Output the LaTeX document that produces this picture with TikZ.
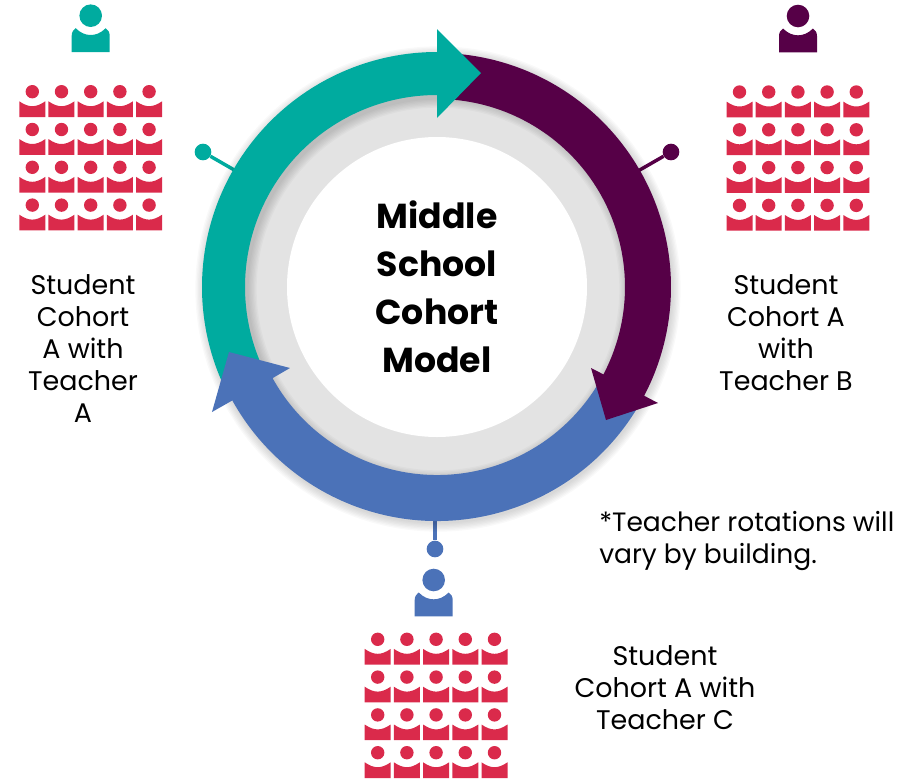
\documentclass[tikz,border=0pt]{standalone}
\usepackage{fontspec}
\setmainfont{Poppins}
\usetikzlibrary{arrows}
\definecolor{tealring}{HTML}{00AB9F}
\definecolor{purplering}{HTML}{560047}
\definecolor{bluering}{HTML}{4B72B8}
\definecolor{studentred}{HTML}{DA2A4B}
\definecolor{discgray}{HTML}{E3E3E3}
\tikzstyle{label} = [inner sep=0pt, align=center, font=\fontsize{20.2}{24}\selectfont]
\tikzstyle{note} = [inner sep=0pt, align=left, font=\fontsize{19.9}{24}\selectfont]
\tikzstyle{title} = [inner sep=0pt, align=center, font=\fontsize{26}{36}\selectfont\bfseries]
\tikzstyle{knob} = [circle, inner sep=0pt, minimum size=12.5pt]
\tikzstyle{stem} = [line width=2.6pt]
\tikzset{
    pics/student/.style={code={
        \fill[studentred] (0,0) circle (6.7);
        \fill[studentred] (-13,-25.3) -- (-13,-9.6)
            .. controls (-8,-13) and (-4,-14.5) .. (0,-14.5)
            .. controls (4,-14.5) and (8,-13) .. (13,-9.6)
            -- (13,-25.3) -- cycle;
    }},
    pics/teacher/.style={code={
        \path[pic actions] (0,0) circle (11.3);
        \path[pic actions] (-19,-36.3) -- (-19,-20)
            .. controls (-19,-16) and (-17,-14) .. (-15,-12.5)
            .. controls (-10,-17.5) and (-5,-19.3) .. (0,-19.3)
            .. controls (5,-19.3) and (10,-17.5) .. (15,-12.5)
            .. controls (17,-14) and (19,-16) .. (19,-20)
            -- (19,-36.3) -- cycle;
    }}
}
\newcommand{\cohort}[2]{
    \foreach \col in {0,...,4}
        \foreach \row in {0,...,3}
            \pic at ({#1+29.2*\col},{#2-37.8*\row}) {student};
}
\newcommand{\tealhead}{(0,258) -- (44,214) -- (0,169) -- cycle}

\begin{document}
\begin{tikzpicture}[x=0.75pt,y=0.75pt]
            \useasboundingbox (-437,-496) rectangle (466,287);
            % Pins
            \node[knob, fill=tealring] (knobA) at (-234,135) {};
            \node[knob, fill=purplering] (knobB) at (234,135) {};
            \node[knob, fill=bluering] (knobC) at (-2,-262) {};
            \coordinate (ringA) at (150:225);
            \coordinate (ringB) at (30:225);
            \coordinate (ringC) at (-2,-225);
            \draw[stem, tealring] (knobA) -- (ringA);
            \draw[stem, purplering] (knobB) -- (ringB);
            \draw[stem, bluering] (knobC) -- (ringC);
            % Disc
            \fill[discgray] (0,0) circle (200);
            \foreach \w in {34,36,...,46}
                \draw[black, opacity=0.022, line width=\w pt] (1,-2) circle (212);
            \fill[white] (0,0) circle (150);
            % Ring
            \fill[tealring] (205:235) arc[start angle=205, end angle=90, radius=235]
                -- (0,192) arc[start angle=90, end angle=205, radius=192] -- cycle;
            \fill[bluering] (-30:234) arc[start angle=-30, end angle=-151, radius=234]
                -- (-225,-125) -- (-208,-65) -- (-147,-81)
                -- (-151:188) arc[start angle=-151, end angle=-30, radius=188] -- cycle;
            \fill[purplering] (85:234) arc[start angle=85, end angle=-27.7, radius=234]
                -- (221,-116) -- (169,-133) -- (154,-81)
                -- (-27.7:188) arc[start angle=-27.7, end angle=85, radius=188] -- cycle;
            \fill[tealring] \tealhead;
            % Teachers
            \pic[fill=tealring] at (-346.3,271.3) {teacher};
            \pic[fill=purplering] at (361,271) {teacher};
            \pic[fill=bluering] at (-3.3,-293) {teacher};
            % Students
            \cohort{-404.7}{195.3}
            \cohort{302.5}{195}
            \cohort{-59.3}{-352.3}
            % Labels
            \node[title] (model) at (0,0) {Middle\\School\\Cohort\\Model};
            \node[label] (labelA) at (-354,-62) {Student\\Cohort\\A with\\Teacher\\A};
            \node[label] (labelB) at (349,-46) {Student\\Cohort A\\with\\Teacher B};
            \node[label] (labelC) at (228,-401) {Student\\Cohort A with\\Teacher C};
            \node[note, anchor=west] (rotations) at (162,-254) {*Teacher rotations will\\vary by building.};
\end{tikzpicture}
\end{document}
